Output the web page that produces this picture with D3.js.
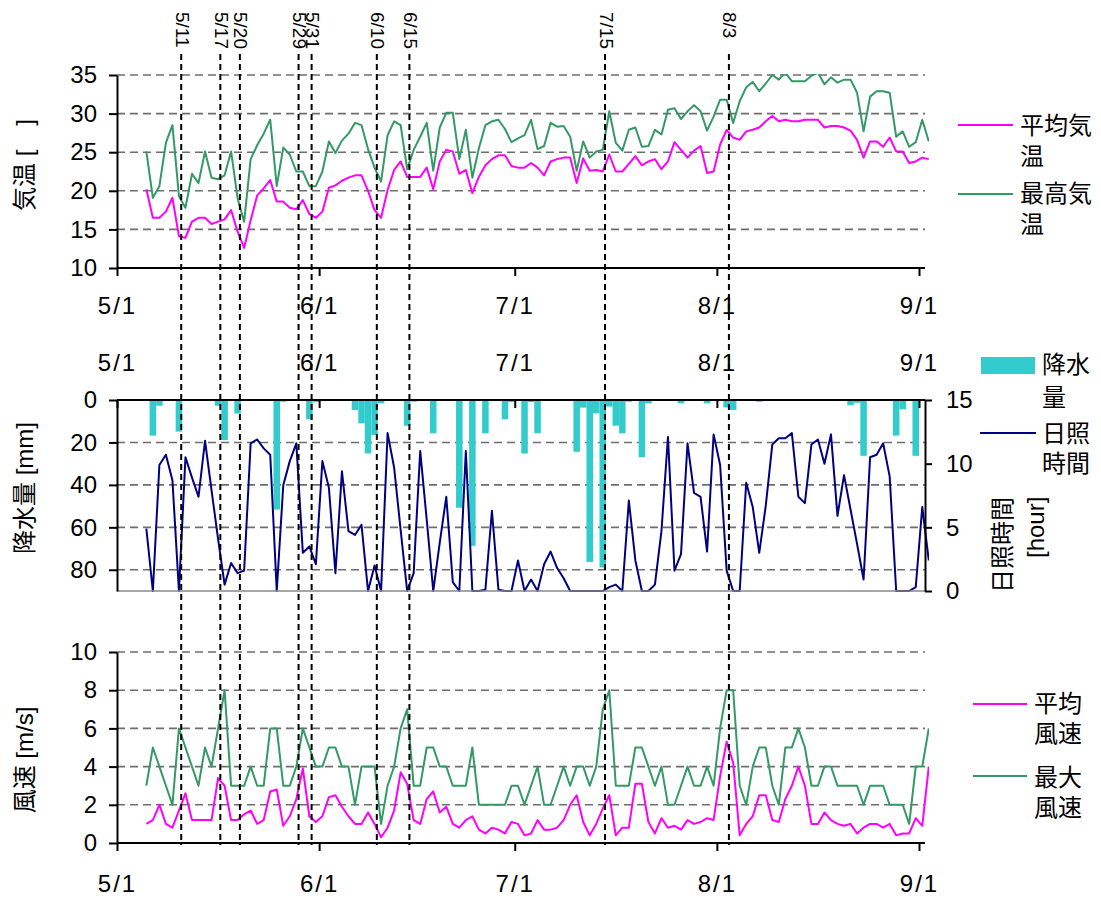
<!DOCTYPE html>
<html>
<head>
<meta charset="utf-8">
<script src="https://cdn.jsdelivr.net/npm/d3@7"></script>
<style>
  body { margin: 0; background: #fff; }
  text { font-family: "Liberation Sans", "Noto Sans CJK JP", sans-serif; fill: #000; }
</style>
</head>
<body>
<svg id="chart" width="1101" height="898"></svg>
<script>
// ---- daily observations, one value per day starting 5/5 ----
const firstDay = "5/5";
const monthTicks = ["5/1", "6/1", "7/1", "8/1", "9/1"];
const markerDays = ["5/11", "5/17", "5/20", "5/29", "5/31", "6/10", "6/15", "7/15", "8/3"];

// 平均気温 [°C]
const avgTemp = [
  20.2, 16.5, 16.5, 17.3, 19.1, 14.1, 13.9, 16.0, 16.5, 16.5,
  15.7, 16.0, 16.3, 17.5, 14.7, 12.6, 16.2, 19.4, 20.3, 21.4,
  18.6, 18.6, 17.8, 17.6, 18.8, 17.0, 16.5, 17.3, 20.4, 20.7,
  21.3, 21.7, 22.0, 22.0, 20.0, 17.5, 16.5, 20.1, 22.7, 23.8,
  21.8, 21.8, 21.8, 23.0, 20.2, 23.8, 25.3, 25.1, 22.2, 22.7,
  19.7, 21.8, 23.3, 24.1, 24.6, 24.6, 23.2, 23.0, 23.0, 23.6,
  23.0, 22.0, 23.8, 24.1, 24.3, 24.3, 21.0, 24.2, 22.6, 22.7,
  22.5, 24.7, 22.5, 22.5, 23.5, 24.5, 23.3, 23.8, 24.1, 22.8,
  23.8, 26.3, 25.3, 24.3, 25.2, 25.8, 22.3, 22.5, 26.0, 27.9,
  26.9, 26.6, 27.7, 27.9, 28.2, 29.0, 29.7, 29.0, 29.2, 29.0,
  29.0, 29.2, 29.2, 29.2, 28.2, 28.4, 28.4, 28.2, 27.8, 26.6,
  24.3, 26.4, 26.4, 25.7, 26.9, 25.1, 25.1, 23.6, 23.8, 24.3, 24.1
];
// 最高気温 [°C]
const maxTemp = [
  25.1, 19.1, 20.6, 26.2, 28.5, 19.3, 17.8, 22.2, 21.0, 25.1,
  21.7, 21.5, 22.0, 25.1, 19.0, 16.0, 24.1, 25.9, 27.4, 29.2,
  20.6, 25.6, 24.7, 22.5, 22.5, 20.6, 20.6, 22.5, 26.4, 24.9,
  26.5, 27.4, 28.8, 28.5, 25.4, 23.0, 21.2, 27.2, 29.0, 28.5,
  22.8, 25.3, 27.0, 28.8, 22.6, 28.2, 30.1, 30.1, 24.1, 27.9,
  21.7, 25.5, 28.5, 29.0, 29.2, 28.0, 26.3, 26.8, 27.2, 29.2,
  25.4, 25.8, 28.8, 28.3, 28.4, 27.0, 22.6, 26.4, 24.3, 25.1,
  25.3, 30.3, 26.2, 25.2, 27.9, 28.2, 25.7, 25.8, 27.9, 27.3,
  30.5, 30.7, 29.3, 30.3, 31.1, 30.3, 27.8, 29.6, 31.8, 31.8,
  28.8, 31.6, 33.4, 34.1, 32.9, 33.9, 35.0, 34.4, 35.3, 34.2,
  34.2, 34.2, 34.9, 35.3, 33.8, 34.7, 34.0, 34.4, 34.4, 32.7,
  27.7, 32.2, 32.9, 32.9, 32.7, 27.0, 27.7, 25.7, 26.3, 29.2, 26.4
];
// 降水量 [mm]
const rain = [
  0, 16.8, 2.7, 0, 0, 14.9, 0, 0, 0, 0,
  0, 2.7, 18.9, 0, 6.4, 0, 0, 0, 0, 0,
  51.6, 0.8, 0, 0, 0, 9.1, 1.0, 0, 0, 0,
  0, 0, 4.7, 11.0, 25.2, 16.5, 1.6, 0, 0, 0,
  12.1, 0.8, 0, 0, 15.7, 0, 0, 0, 50.8, 0,
  68.7, 0, 15.7, 0, 0, 9.1, 1.0, 0, 25.2, 1.0,
  15.7, 0.5, 0, 0, 0, 0, 24.4, 3.6, 76.3, 6.3,
  78.9, 3.1, 12.1, 15.7, 0.8, 0, 27.0, 1.6, 0, 0,
  0, 0, 1.6, 0, 0, 0, 1.6, 0, 0, 3.5,
  4.7, 0, 0, 0, 0.8, 0, 0, 0, 0, 0,
  0, 0, 0, 0, 0, 0, 0, 0, 2.5, 1.3,
  26.3, 0, 0, 0, 0, 16.8, 4.4, 0, 26.3, 0, 0
];
// 日照時間 [hour]
const sunshine = [
  4.9, 0, 9.9, 10.7, 8.7, 0, 10.5, 8.9, 7.4, 11.8,
  7.9, 4.1, 0.5, 2.2, 1.4, 1.6, 11.6, 11.9, 11.2, 10.7,
  0, 8.3, 10.2, 11.6, 3.0, 3.5, 2.1, 10.2, 8.1, 1.4,
  9.4, 4.7, 4.4, 5.2, 0, 2.0, 0, 12.4, 9.7, 4.8,
  0, 1.4, 11.0, 5.6, 0, 3.8, 7.4, 0.7, 0, 11.0,
  0, 0, 0.1, 6.3, 0.1, 0, 0, 2.4, 0, 0.9,
  0, 2.1, 3.1, 1.8, 1.0, 0, 0, 0, 0, 0,
  0, 0.3, 0.5, 0, 7.1, 2.4, 0, 0, 0.5, 4.7,
  12.1, 1.6, 2.9, 11.6, 7.7, 7.4, 3.1, 12.3, 9.9, 1.6,
  0, 0, 8.5, 6.6, 3.0, 6.7, 11.5, 12.0, 12.0, 12.4,
  7.4, 6.9, 11.5, 11.9, 10.0, 12.3, 5.9, 9.1, 6.4, 3.7,
  0.9, 10.5, 10.7, 11.6, 9.0, 0, 0, 0, 0.3, 6.6, 2.4
];
// 平均風速 [m/s]
const avgWind = [
  1.0, 1.2, 2.0, 1.0, 0.8, 1.7, 2.6, 1.2, 1.2, 1.2,
  1.2, 3.4, 3.0, 1.2, 1.2, 1.5, 1.7, 1.0, 1.2, 2.7,
  2.8, 0.9, 1.4, 2.3, 3.9, 1.4, 1.1, 1.4, 2.4, 2.5,
  1.9, 1.4, 1.0, 1.0, 1.6, 1.0, 0.3, 0.8, 1.7, 3.7,
  3.1, 1.2, 1.0, 2.3, 2.7, 1.6, 1.9, 1.0, 0.8, 1.2,
  1.4, 0.7, 0.5, 0.8, 0.7, 0.5, 1.1, 1.0, 0.4, 0.5,
  1.2, 0.7, 0.7, 0.8, 1.2, 2.0, 2.5, 1.1, 0.4, 1.0,
  1.8, 2.5, 0.4, 0.8, 0.8, 3.1, 3.1, 1.1, 0.5, 1.3,
  0.8, 0.9, 0.7, 1.2, 1.0, 1.1, 1.3, 1.2, 3.5, 5.3,
  4.2, 0.4, 1.0, 1.4, 2.5, 2.5, 1.2, 1.1, 2.3, 3.0,
  4.0, 3.0, 1.0, 1.0, 1.6, 1.2, 1.0, 0.9, 1.0, 0.5,
  0.8, 1.0, 1.0, 0.8, 1.0, 0.4, 0.5, 0.5, 1.3, 0.9, 4.0
];
// 最大風速 [m/s]
const maxWind = [
  3, 5, 4, 3, 2, 6, 5, 4, 3, 5,
  4, 6, 8, 3, 3, 3, 4, 3, 3, 6,
  6, 3, 3, 4, 6, 5, 4, 4, 5, 5,
  4, 4, 2, 4, 4, 4, 1, 3, 4, 6,
  7, 3, 3, 5, 5, 4, 4, 3, 3, 3,
  5, 2, 2, 2, 2, 2, 3, 3, 2, 3,
  4, 2, 2, 3, 4, 3, 4, 4, 3, 4,
  7, 8, 3, 3, 3, 5, 5, 4, 3, 4,
  2, 2, 3, 4, 3, 3, 4, 3, 6, 8,
  8, 3, 2, 4, 5, 5, 3, 2, 5, 5,
  6, 5, 3, 3, 4, 4, 3, 3, 3, 3,
  2, 3, 3, 3, 2, 2, 2, 1, 4, 4, 6
];

const tempTicks = [10, 15, 20, 25, 30, 35];
const rainTicks = [0, 20, 40, 60, 80];
const sunTicks = [0, 5, 10, 15];
const windTicks = [0, 2, 4, 6, 8, 10];

// ---- helpers ----
const YEAR = 2007;
const md = s => { const [m, d] = s.split("/").map(Number); return new Date(Date.UTC(YEAR, m - 1, d)); };
const DAY = 864e5;
const t0 = md(firstDay).getTime();
const dayAt = i => new Date(t0 + (i + 0.5) * DAY);   // each day is plotted at its midpoint
const fmtMD = d => `${d.getUTCMonth() + 1}/${d.getUTCDate()}`;

const svg = d3.select("#chart");
const L = 117, R = 925;
const FS = 24;

const x = d3.scaleUtc().domain([md(monthTicks[0]), md(monthTicks[monthTicks.length - 1])]).range([L, 919]);
const dayW = x(new Date(t0 + DAY)) - x(new Date(t0));

const yTemp = d3.scaleLinear().domain([10, 35]).range([268, 75]);
const yRain = d3.scaleLinear().domain([0, 90]).range([400, 591]);
const ySun = d3.scaleLinear().domain([0, 15]).range([591, 400]);
const yWind = d3.scaleLinear().domain([0, 10]).range([843, 652]);

const COL = { avgT: "#ff00ff", maxT: "#339966", rain: "#33cccc", sun: "#000080" };

const defs = svg.append("defs");
function clip(id, y0, y1) {
  defs.append("clipPath").attr("id", id)
    .append("rect").attr("x", L).attr("y", y0).attr("width", R - L + 4).attr("height", y1 - y0);
  return `url(#${id})`;
}

function gridLines(scale, values) {
  svg.append("g").selectAll("line").data(values).join("line")
    .attr("x1", L).attr("x2", R)
    .attr("y1", d => scale(d)).attr("y2", d => scale(d))
    .attr("stroke", "#6e6e6e").attr("stroke-width", 1.6).attr("stroke-dasharray", "8,5");
}

function leftAxis(scale, ticks) {
  const g = svg.append("g").attr("transform", `translate(${L},0)`)
    .call(d3.axisLeft(scale).tickValues(ticks).tickSize(8).tickSizeOuter(0).tickPadding(12));
  g.select(".domain").attr("stroke", "#000").attr("stroke-width", 2);
  g.selectAll(".tick line").attr("stroke", "#000").attr("stroke-width", 2);
  g.selectAll(".tick text").attr("font-size", FS).attr("font-family", null);
  return g;
}

function monthAxisBottom(yPos, pad) {
  const g = svg.append("g").attr("transform", `translate(0,${yPos})`)
    .call(d3.axisBottom(x).tickValues(monthTicks.map(md)).tickSize(8).tickPadding(pad).tickFormat(fmtMD));
  g.select(".domain").remove();
  g.selectAll(".tick line").attr("stroke", "#000").attr("stroke-width", 2);
  g.selectAll(".tick text").attr("font-size", FS).attr("font-family", null).attr("letter-spacing", 2);
  svg.append("line").attr("x1", L).attr("x2", R).attr("y1", yPos).attr("y2", yPos)
    .attr("stroke", "#000").attr("stroke-width", 2);
}

function seriesLine(values, yScale, color, clipUrl) {
  svg.append("path").datum(values)
    .attr("clip-path", clipUrl)
    .attr("fill", "none").attr("stroke", color).attr("stroke-width", 2).attr("stroke-linejoin", "round")
    .attr("d", d3.line().x((d, i) => x(dayAt(i))).y(d => yScale(d)));
}

function axisTitle(cx, cy, str) {
  svg.append("text").attr("transform", `translate(${cx},${cy}) rotate(-90)`)
    .attr("text-anchor", "middle").attr("dominant-baseline", "central")
    .attr("font-size", FS).text(str);
}

function legendText(x0, y0, lines, gap) {
  const t = svg.append("text").attr("font-size", FS).attr("dominant-baseline", "central");
  lines.forEach((s, k) => t.append("tspan").attr("x", x0).attr("y", y0 + k * gap).text(s));
}

// ================= 気温 =================
gridLines(yTemp, tempTicks.slice(1));
leftAxis(yTemp, tempTicks);
monthAxisBottom(268, 21);
const clipT = clip("clipT", 74, 269);
seriesLine(avgTemp, yTemp, COL.avgT, clipT);
seriesLine(maxTemp, yTemp, COL.maxT, clipT);
axisTitle(24, 165, "気温 [　]");

svg.append("line").attr("x1", 958).attr("x2", 1013).attr("y1", 125).attr("y2", 125).attr("stroke", COL.avgT).attr("stroke-width", 2);
legendText(1020, 125, ["平均気", "温"], 31);
svg.append("line").attr("x1", 958).attr("x2", 1013).attr("y1", 194).attr("y2", 194).attr("stroke", COL.maxT).attr("stroke-width", 2);
legendText(1020, 193, ["最高気", "温"], 31);

// ================= 降水量 / 日照時間 =================
gridLines(yRain, rainTicks.slice(1));
// rainfall bars hang from the top axis
svg.append("g").selectAll("rect").data(rain).join("rect")
  .attr("x", (d, i) => x(dayAt(i)) - dayW / 2)
  .attr("width", dayW)
  .attr("y", yRain(0))
  .attr("height", d => yRain(d) - yRain(0))
  .attr("fill", COL.rain);
seriesLine(sunshine, ySun, COL.sun, clip("clipS", 398, 592));

svg.append("line").attr("x1", L).attr("x2", R).attr("y1", 591).attr("y2", 591).attr("stroke", "#888").attr("stroke-width", 1.5);
leftAxis(yRain, rainTicks);
{
  const g = svg.append("g").attr("transform", `translate(${R},0)`)
    .call(d3.axisRight(ySun).tickValues(sunTicks).tickSize(7).tickSizeOuter(0).tickPadding(14));
  g.select(".domain").attr("stroke", "#000").attr("stroke-width", 2);
  g.selectAll(".tick line").attr("stroke", "#000").attr("stroke-width", 2);
  g.selectAll(".tick text").attr("font-size", FS).attr("font-family", null);
}
{
  const g = svg.append("g").attr("transform", `translate(0,400)`)
    .call(d3.axisTop(x).tickValues(monthTicks.map(md)).tickSize(-8).tickPadding(29).tickFormat(fmtMD));
  g.select(".domain").remove();
  g.selectAll(".tick line").attr("stroke", "#000").attr("stroke-width", 2);
  g.selectAll(".tick text").attr("font-size", FS).attr("font-family", null).attr("letter-spacing", 2);
  svg.append("line").attr("x1", L).attr("x2", R).attr("y1", 400).attr("y2", 400).attr("stroke", "#000").attr("stroke-width", 2);
}
axisTitle(24, 488, "降水量 [mm]");
svg.append("text").attr("transform", "translate(1002,593) rotate(-90)")
  .attr("font-size", FS).attr("dominant-baseline", "central").text("日照時間");
svg.append("text").attr("transform", "translate(1035,558) rotate(-90)")
  .attr("font-size", FS).attr("dominant-baseline", "central").text("[hour]");

svg.append("rect").attr("x", 981).attr("y", 357).attr("width", 54).attr("height", 17).attr("fill", COL.rain);
legendText(1042, 364, ["降水", "量"], 33);
svg.append("line").attr("x1", 980).attr("x2", 1036).attr("y1", 433).attr("y2", 433).attr("stroke", COL.sun).attr("stroke-width", 2);
legendText(1042, 433, ["日照", "時間"], 30);

// ================= 風速 =================
gridLines(yWind, windTicks.slice(1));
leftAxis(yWind, windTicks);
monthAxisBottom(843, 24);
const clipW = clip("clipW", 650, 844);
seriesLine(avgWind, yWind, COL.avgT, clipW);
seriesLine(maxWind, yWind, COL.maxT, clipW);
axisTitle(24, 760, "風速 [m/s]");

svg.append("line").attr("x1", 973).attr("x2", 1027).attr("y1", 704).attr("y2", 704).attr("stroke", COL.avgT).attr("stroke-width", 2);
legendText(1034, 703, ["平均", "風速"], 30);
svg.append("line").attr("x1", 973).attr("x2", 1027).attr("y1", 776).attr("y2", 776).attr("stroke", COL.maxT).attr("stroke-width", 2);
legendText(1034, 777, ["最大", "風速"], 30);

// ================= reference days =================
const mk = svg.append("g").attr("transform", "translate(-1,0)");
mk.selectAll("line").data(markerDays).join("line")
  .attr("x1", d => x(md(d))).attr("x2", d => x(md(d)))
  .attr("y1", 54).attr("y2", 845)
  .attr("stroke", "#000").attr("stroke-width", 2).attr("stroke-dasharray", "6,4");
mk.selectAll("text").data(markerDays).join("text")
  .attr("transform", d => `translate(${x(md(d)) + 1},12) rotate(90)`)
  .attr("dominant-baseline", "central")
  .attr("font-size", 19).text(d => d);
</script>
</body>
</html>
